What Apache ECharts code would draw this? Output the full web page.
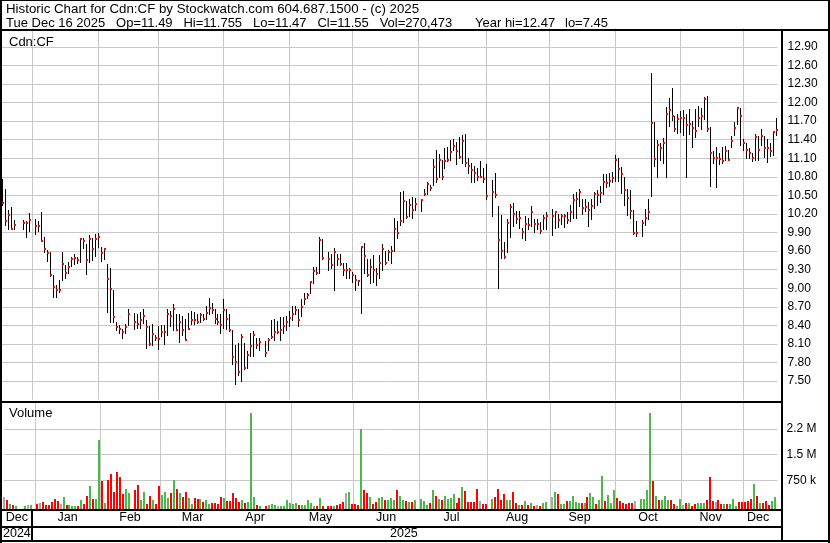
<!DOCTYPE html>
<html><head><meta charset="utf-8">
<script src="https://cdn.jsdelivr.net/npm/echarts@6/dist/echarts.min.js"></script>
<style>html,body{margin:0;padding:0;background:#fff;}#c{width:830px;height:543px;}</style>
</head><body><div id="c"></div>
<script>
// ---- DATA (one entry per weekday from 2024-12-18 to 2025-12-16; null = no trading) ----
const firstDay = '2024-12-18', lastDay = '2025-12-16';
const high = [
10.76,10.61,10.26,10.31,10.11,null,null,10.11,10.09,10.22,
null,10.12,10.08,10.24,9.83,9.62,9.58,9.21,9.06,9.13,9.58,9.37,9.43,9.51,9.55,9.51,9.82,9.81,9.71,9.86,9.82,9.88,9.89,
9.66,9.64,9.39,9.32,8.98,8.45,8.40,8.34,8.43,8.66,null,8.60,8.58,8.61,8.67,8.49,8.39,8.43,8.25,8.39,
8.40,8.40,8.66,8.63,8.75,8.59,8.59,8.56,8.50,8.60,8.64,8.61,8.59,8.60,8.58,8.71,8.84,8.77,8.66,8.58,8.58,
8.82,8.66,8.59,8.32,8.08,8.12,8.26,8.12,7.98,8.28,8.31,8.20,8.20,null,8.15,8.20,8.48,8.51,8.47,8.54,8.54,8.55,
8.64,8.72,8.72,8.66,8.82,8.92,8.92,9.12,9.34,9.34,9.83,9.80,null,9.59,9.56,9.65,9.56,9.56,9.41,9.41,9.32,9.27,9.21,9.13,
9.69,9.73,9.48,9.48,9.53,9.33,9.54,9.71,9.61,9.62,9.69,10.14,10.08,10.56,10.57,10.41,10.45,10.48,10.46,
null,10.45,10.61,10.71,10.67,11.09,11.23,11.17,11.08,11.26,11.29,11.40,11.41,11.37,11.45,11.47,11.49,11.10,11.02,10.97,10.94,11.05,10.94,
11.00,null,10.75,10.86,10.33,10.18,9.75,10.12,10.36,10.37,10.25,10.25,9.97,10.17,10.14,10.33,10.12,10.12,10.07,10.18,10.24,
null,10.28,10.25,10.20,10.20,10.20,10.23,10.35,10.52,10.55,10.61,10.45,10.44,10.39,10.44,10.55,10.58,10.66,10.85,10.84,10.86,10.88,
11.15,11.11,10.96,10.80,10.60,10.58,10.26,10.09,null,10.10,10.28,10.44,12.47,11.68,11.39,11.35,11.43,11.93,12.07,12.24,11.79,11.81,11.87,
11.88,11.81,11.90,11.71,11.90,11.95,11.92,12.09,12.11,11.60,11.22,11.29,11.19,11.29,11.30,11.24,11.46,11.68,11.92,11.92,
11.41,11.35,11.27,11.19,11.49,11.46,11.57,11.46,11.41,11.35,11.54,11.755];
const low = [
10.34,10.03,9.96,9.95,9.95,null,null,9.96,9.83,9.92,
null,9.88,9.92,9.76,9.58,9.44,9.20,8.86,8.86,8.94,9.13,9.17,9.25,9.36,9.39,9.41,9.42,9.65,9.23,9.42,9.46,9.52,9.66,
9.44,9.47,8.61,8.45,8.45,8.33,8.28,8.19,8.28,8.41,null,8.35,8.36,8.36,8.44,8.04,8.08,8.08,8.17,8.02,
8.23,8.10,8.25,8.39,8.33,8.32,8.13,8.24,8.16,8.34,8.43,8.43,8.44,8.45,8.49,8.51,8.58,8.60,8.44,8.42,8.28,
8.36,8.35,8.31,7.78,7.45,7.60,7.50,7.70,7.71,7.90,7.90,8.04,8.01,null,7.90,8.01,8.20,8.17,8.28,8.16,8.28,8.32,
8.39,8.49,8.58,8.39,8.55,8.74,8.84,8.93,9.09,9.23,9.25,9.47,null,9.29,9.32,8.98,9.37,9.37,9.21,9.16,9.16,9.10,8.98,9.06,
8.60,9.25,9.20,9.09,9.10,9.06,9.16,9.30,9.40,9.45,9.41,9.61,9.81,10.02,10.07,10.14,10.17,10.14,10.26,
null,10.25,10.50,10.53,10.59,10.67,10.72,10.79,10.77,10.94,11.06,11.08,11.24,11.00,11.10,11.02,10.97,10.86,10.71,10.71,10.75,10.79,10.72,
10.44,null,10.17,10.47,9.01,9.49,9.49,9.58,9.83,10.01,10.05,9.98,9.82,9.78,9.95,10.01,9.91,9.96,9.90,9.96,9.96,
null,9.86,9.98,9.99,10.04,9.99,10.05,10.09,10.13,10.14,10.33,10.20,10.25,10.01,10.12,10.29,10.34,10.40,10.52,10.64,10.66,10.71,
10.73,10.74,10.54,10.35,10.19,10.13,9.87,9.85,null,9.85,10.02,10.12,10.49,10.97,10.80,11.08,11.02,10.80,11.62,11.72,11.54,11.51,11.53,
11.48,10.80,11.49,11.29,11.45,11.62,11.58,11.73,11.54,10.65,11.03,10.64,11.00,11.03,11.08,11.07,11.29,11.47,11.65,11.31,
11.24,11.11,11.10,11.06,11.07,11.08,11.31,11.12,11.04,11.14,11.16,11.47];
const close = [
10.38,10.09,10.19,9.96,10.02,null,null,10.05,10.05,10.11,
null,10.00,10.00,9.77,9.63,9.57,9.21,9.02,8.98,8.98,9.39,9.24,9.35,9.47,9.49,9.46,9.79,9.77,9.46,9.79,9.63,9.79,9.83,
9.57,9.63,9.15,8.99,8.53,8.37,8.34,8.29,8.37,8.59,null,8.46,8.43,8.49,8.55,8.37,8.10,8.26,8.20,8.18,
8.29,8.30,8.59,8.55,8.66,8.33,8.45,8.33,8.17,8.35,8.49,8.48,8.46,8.57,8.50,8.60,8.68,8.65,8.51,8.45,8.40,
8.65,8.51,8.32,7.89,7.81,7.64,8.21,7.72,7.92,8.06,8.24,8.08,8.13,null,7.95,8.16,8.22,8.30,8.30,8.33,8.39,8.46,
8.52,8.59,8.65,8.48,8.69,8.82,8.89,9.10,9.28,9.25,9.78,9.49,null,9.47,9.37,9.59,9.48,9.40,9.29,9.29,9.30,9.22,9.13,9.11,
9.66,9.52,9.22,9.34,9.30,9.23,9.41,9.63,9.41,9.58,9.60,9.95,9.89,10.08,10.41,10.15,10.34,10.26,10.36,
null,10.43,10.53,10.69,10.62,10.96,10.76,11.08,10.80,11.06,11.08,11.20,11.30,11.22,11.12,11.38,11.03,10.98,10.91,10.87,10.80,10.80,10.76,
10.49,null,10.55,10.50,9.78,9.60,9.50,10.05,10.32,10.20,10.12,10.13,9.91,10.04,10.02,10.24,10.04,10.04,9.92,10.13,10.17,
null,10.17,10.24,10.10,10.16,10.17,10.11,10.23,10.43,10.45,10.56,10.30,10.31,10.26,10.33,10.53,10.51,10.54,10.72,10.70,10.73,10.78,
11.08,10.92,10.85,10.58,10.46,10.25,9.89,9.89,null,10.05,10.14,10.24,11.67,11.09,11.32,11.26,11.34,11.82,11.88,11.79,11.58,11.74,11.75,
11.75,11.64,11.66,11.59,11.54,11.75,11.79,12.05,11.58,11.18,11.11,11.11,11.09,11.06,11.22,11.08,11.38,11.59,11.91,11.79,
11.34,11.24,11.18,11.10,11.45,11.23,11.46,11.27,11.26,11.22,11.53,11.55];
// volume in thousands of shares
const volume = [
262,184,58,39,10,null,null,10,39,39,
null,77,96,126,39,39,126,213,165,68,271,39,29,10,10,10,184,58,300,590,203,213,1926,
736,96,765,939,426,997,852,359,504,387,null,475,620,184,416,68,300,184,68,590,
330,416,242,387,765,504,387,271,416,242,68,242,213,213,126,184,68,96,96,68,271,
242,155,155,387,242,126,184,87,126,2710,271,29,10,null,10,39,68,39,10,10,10,184,
96,68,96,39,39,39,184,96,10,10,242,10,null,10,10,10,39,68,126,387,416,68,68,39,
2236,475,387,271,68,126,242,271,184,184,242,184,475,300,184,155,126,126,184,
null,213,155,39,96,475,300,213,184,300,213,242,359,96,242,561,445,126,126,126,504,155,68,
68,null,213,271,504,184,359,184,184,416,96,39,39,155,39,96,10,39,10,96,126,
null,271,416,359,68,68,155,155,300,126,96,96,96,271,387,271,68,184,881,155,330,96,
475,242,155,96,68,96,96,155,null,213,213,475,2710,736,300,184,184,300,184,184,68,10,213,
39,96,96,10,68,96,96,96,184,852,155,126,184,68,68,68,68,213,10,126,
126,126,155,213,649,300,96,96,155,39,155,270];
const monthNames = ['Jan','Feb','Mar','Apr','May','Jun','Jul','Aug','Sep','Oct','Nov','Dec'];

// ---- categories: weekdays ----
function weekdays(a, b) {
  const out = []; let d = new Date(a + 'T00:00:00Z'); const e = new Date(b + 'T00:00:00Z');
  while (d <= e) { const w = d.getUTCDay(); if (w !== 0 && w !== 6) out.push(d.toISOString().slice(0, 10)); d = new Date(d.getTime() + 86400000); }
  return out;
}
const dates = weekdays(firstDay, lastDay);
const N = dates.length;

// month spans -> label slots and grid-line slots
const monthLabelIdx = new Set(), yearLabelIdx = new Set(), monthLineIdx = [];
(function () {
  const spans = {}, ySpans = {};
  dates.forEach((d, i) => {
    const m = d.slice(0, 7), y = d.slice(0, 4);
    if (!spans[m]) spans[m] = [i, i]; spans[m][1] = i;
    if (!ySpans[y]) ySpans[y] = [i, i]; ySpans[y][1] = i;
  });
  Object.values(spans).forEach(s => monthLabelIdx.add(Math.floor((s[0] + s[1]) / 2)));
  Object.values(ySpans).forEach(s => yearLabelIdx.add(Math.floor((s[0] + s[1]) / 2)));
  Object.keys(spans).forEach((m, k) => {
    if (k === 0) return;
    const s = spans[m][0];
    monthLineIdx.push(dates[s].slice(8, 10) === '01' ? s : s - 1);
  });
})();

// ---- build series data ----
const priceData = [], volData = [];
let prev = null;
for (let i = 0; i < N; i++) {
  if (high[i] == null) continue;
  priceData.push([i, high[i], low[i], close[i]]);
  let dir = 0;
  if (prev != null) dir = Math.round(close[i] * 1000) > Math.round(prev * 1000) ? 1 : (Math.round(close[i] * 1000) < Math.round(prev * 1000) ? -1 : 0);
  volData.push([i, volume[i], dir]);
  prev = close[i];
}
const lineData = monthLineIdx.map(i => [i, 0]);

const FONT = '"Liberation Sans", Arial, sans-serif';
const GRID = '#c8c8c8';
const chart = echarts.init(document.getElementById('c'), null, { renderer: 'canvas' });

function gridLineRender(extra) {
  return function (params, api) {
    const cs = params.coordSys;
    const x = Math.round(api.coord([api.value(0), 0])[0]) + 0.5;
    return { type: 'line', shape: { x1: x, y1: cs.y, x2: x, y2: cs.y + cs.height + extra }, style: { stroke: GRID, lineWidth: 1 } };
  };
}

const frame = [
  [0, 0, 830, 1], [0, 0, 2, 543], [828, 0, 2, 543], [0, 540, 830, 2],
  [0, 29, 830, 2], [0, 401, 782, 2], [0, 509, 782, 2], [0, 526, 782, 2],
  [781, 29, 2, 513], [31, 509, 2, 32]
].map(r => ({ type: 'rect', shape: { x: r[0], y: r[1], width: r[2], height: r[3] }, style: { fill: '#000' }, z: 100, silent: true }));

function txt(t, x, y, size) {
  return { type: 'text', z: 101, silent: true, x: x, y: y,
    style: { text: t, fill: '#000', fontSize: size, fontFamily: FONT, textVerticalAlign: 'middle', verticalAlign: 'middle' } };
}
const headerFields = [['Tue Dec 16 2025   Op=11.49   Hi=11.755   Lo=11.47   Cl=11.55   Vol=270,473', 6],
  ['Year hi=12.47', 475], ['lo=7.45', 565]];

const GL = 0.94, GW = 776.6;
chart.setOption({
  animation: false,
  backgroundColor: '#fff',
  grid: [
    { left: GL, top: 28.3, width: GW, height: 371.4 },
    { left: GL, top: 403, width: GW, height: 103.3 }
  ],
  xAxis: [
    { type: 'category', gridIndex: 0, data: dates, boundaryGap: true, show: false },
    { type: 'category', gridIndex: 1, data: dates, boundaryGap: true, position: 'bottom',
      axisLine: { show: false }, axisTick: { show: false }, splitLine: { show: false },
      axisLabel: { interval: (i) => monthLabelIdx.has(i), formatter: (v) => monthNames[+v.slice(5, 7) - 1], color: '#000', fontSize: 12.5, fontFamily: FONT, margin: 5 } },
    { type: 'category', gridIndex: 1, data: dates, boundaryGap: true, position: 'bottom', offset: 16,
      axisLine: { show: false }, axisTick: { show: false }, splitLine: { show: false },
      axisLabel: { interval: (i) => yearLabelIdx.has(i), formatter: (v) => v.slice(0, 4), color: '#000', fontSize: 12.5, fontFamily: FONT, margin: 5 } }
  ],
  yAxis: [
    { type: 'value', gridIndex: 0, position: 'right', min: 7.2, max: 13.2, interval: 0.3,
      axisLine: { show: false }, axisTick: { show: false },
      axisLabel: { margin: 10, color: '#000', fontSize: 12, fontFamily: FONT, formatter: (v) => v.toFixed(2), showMinLabel: false, showMaxLabel: false },
      splitLine: { show: true, lineStyle: { color: GRID, width: 1 }, showMinLine: false, showMaxLine: false } },
    { type: 'value', gridIndex: 1, position: 'right', min: 0, max: 3000, interval: 750,
      axisLine: { show: false }, axisTick: { show: false },
      axisLabel: { margin: 9, color: '#000', fontSize: 12, fontFamily: FONT, showMinLabel: false, showMaxLabel: false,
        formatter: (v) => v >= 1000 ? (Math.floor(v / 100) / 10) + ' M' : v + ' k' },
      splitLine: { show: true, lineStyle: { color: GRID, width: 1 }, showMinLine: false, showMaxLine: false } }
  ],
  series: [
    { type: 'custom', xAxisIndex: 0, yAxisIndex: 0, z: 1, silent: true, data: lineData, encode: { x: 0, y: 1 }, renderItem: gridLineRender(0) },
    { type: 'custom', xAxisIndex: 1, yAxisIndex: 1, z: 1, silent: true, data: lineData, encode: { x: 0, y: 1 }, renderItem: gridLineRender(4) },
    { type: 'custom', name: 'Cdn:CF', xAxisIndex: 0, yAxisIndex: 0, z: 3, data: priceData, encode: { x: 0, y: [1, 2, 3] },
      renderItem: function (params, api) {
        const i = api.value(0);
        const ph = api.coord([i, api.value(1)]), pl = api.coord([i, api.value(2)]), pc = api.coord([i, api.value(3)]);
        const x = Math.round(ph[0]);
        const y1 = Math.round(ph[1]), y2 = Math.round(pl[1]), yc = Math.round(pc[1]);
        return { type: 'group', children: [
          { type: 'rect', shape: { x: x, y: y1, width: 1, height: Math.max(1, y2 - y1 + 1) }, style: { fill: '#000' } },
          { type: 'rect', shape: { x: x, y: yc - 1, width: 2, height: 2 }, style: { fill: '#ff0000' } }
        ] };
      } },
    { type: 'custom', name: 'Volume', xAxisIndex: 1, yAxisIndex: 1, z: 3, data: volData, encode: { x: 0, y: 1 },
      renderItem: function (params, api) {
        const i = api.value(0), d = api.value(2);
        const top = api.coord([i, api.value(1)]), base = api.coord([i, 0]);
        const x = Math.round(top[0]) - 2;
        const yb = Math.round(base[1] + 3.2), yt = Math.round(top[1]);
        return { type: 'rect', shape: { x: x, y: yt, width: 2, height: Math.max(1, yb - yt) },
          style: { fill: d > 0 ? '#4cb848' : (d < 0 ? '#ff0000' : '#a8a8a8') } };
      } }
  ],
  graphic: frame.concat([
    txt('Historic Chart for Cdn:CF by Stockwatch.com 604.687.1500 - (c) 2025', 6, 9, 13.3),
    txt('Cdn:CF', 9, 42, 13),
    txt('Volume', 9, 413, 13)
  ]).concat(headerFields.map(f => txt(f[0], f[1], 23, 13)))
});
</script></body></html>
